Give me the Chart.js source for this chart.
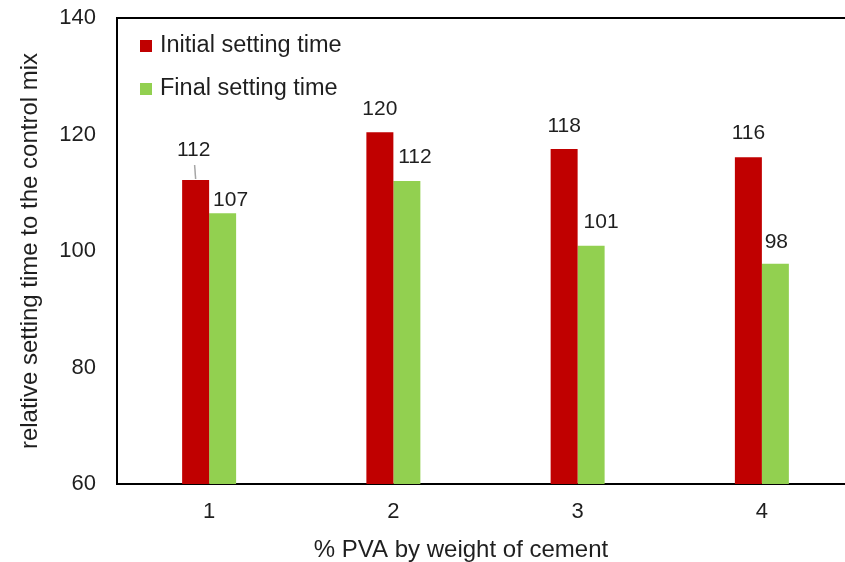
<!DOCTYPE html>
<html>
<head>
<meta charset="utf-8">
<title>Relative setting time</title>
<script src="https://cdn.jsdelivr.net/npm/chart.js@4.4.1/dist/chart.umd.min.js"></script>
<style>
    html, body { margin: 0; padding: 0; background: #fff; }
    /* 原图右侧被裁掉一截，画布略宽再裁掉 */
    .chart-wrap { width: 845px; height: 562px; overflow: hidden; }
</style>
</head>
<body>
<div class="chart-wrap">
    <canvas id="settingChart" width="856" height="562"></canvas>
</div>
<script>
// 数据
const categories = ['1', '2', '3', '4'];
const initialTime = [112.2, 120.4, 117.5, 116.1];
const finalTime = [106.5, 112.0, 100.9, 97.8];
const yTicks = [60, 80, 100, 120, 140];

const seriesNames = ['Initial setting time', 'Final setting time'];
const seriesColors = ['#C00000', '#92D050'];

// 数据标签相对柱顶的偏移（按系列）
const labelDx = [[-2, 0, 0, 0], [8, 8, 10, 1]];
const labelDy = [[-30, -23, -23, -24], [-13, -24, -24, -22]];

const FONT = "'Liberation Sans', Arial, sans-serif";
const TEXT_COLOR = '#1f1f1f';

// 数据标签（第一个红柱的标签被抬高，并带引导线）
const dataLabelPlugin = {
    id: 'dataLabels',
    afterDatasetsDraw(chart) {
        const ctx = chart.ctx;
        ctx.save();
        ctx.font = '21px ' + FONT;
        ctx.fillStyle = TEXT_COLOR;
        ctx.textAlign = 'center';
        ctx.textBaseline = 'middle';
        chart.data.datasets.forEach((ds, di) => {
            const meta = chart.getDatasetMeta(di);
            meta.data.forEach((bar, i) => {
                const x = bar.x + labelDx[di][i];
                const y = bar.y + labelDy[di][i];
                if (di === 0 && i === 0) {
                    // 灰色引导线
                    ctx.strokeStyle = '#a6a6a6';
                    ctx.lineWidth = 1.5;
                    ctx.beginPath();
                    ctx.moveTo(bar.x - 1, y + 15);
                    ctx.lineTo(bar.x, bar.y - 1);
                    ctx.stroke();
                }
                ctx.fillText(Math.round(ds.data[i]).toString(), x, y);
            });
        });
        ctx.restore();
    }
};

// 图框上边线、图例、坐标轴标题
const framePlugin = {
    id: 'frame',
    afterDraw(chart) {
        const ctx = chart.ctx;
        const area = chart.chartArea;
        ctx.save();
        ctx.strokeStyle = '#000';
        ctx.lineWidth = 2;
        ctx.beginPath();
        ctx.moveTo(area.left - 1, area.top);
        ctx.lineTo(area.right, area.top);
        ctx.stroke();

        // 图例
        ctx.font = '23.5px ' + FONT;
        ctx.textAlign = 'left';
        ctx.textBaseline = 'middle';
        chart.data.datasets.forEach((ds, di) => {
            const cy = area.top + 28 + di * 43;
            ctx.fillStyle = ds.backgroundColor;
            ctx.fillRect(area.left + 23, cy - 6, 12, 12);
            ctx.fillStyle = TEXT_COLOR;
            ctx.fillText(ds.label, area.left + 43, cy);
        });

        // x轴标题
        ctx.font = '24px ' + FONT;
        ctx.textAlign = 'center';
        ctx.fillText('% PVA by weight of cement', area.left + 344, 550);

        // y轴标题
        ctx.translate(30, (area.top + area.bottom) / 2);
        ctx.rotate(-Math.PI / 2);
        ctx.fillText('relative setting time to the control mix', 0, 0);
        ctx.restore();
    }
};

function initSettingChart() {
    const canvas = document.getElementById('settingChart');

    new Chart(canvas, {
        type: 'bar',
        data: {
            labels: categories,
            datasets: [{
                label: seriesNames[0],
                data: initialTime,
                backgroundColor: seriesColors[0]
            }, {
                label: seriesNames[1],
                data: finalTime,
                backgroundColor: seriesColors[1]
            }]
        },
        options: {
            responsive: false,
            animation: false,
            layout: { padding: { top: 18, right: 2, left: 0, bottom: 0 } },
            datasets: {
                bar: { categoryPercentage: 0.293, barPercentage: 1.0 }
            },
            plugins: {
                legend: { display: false },
                tooltip: { enabled: false }
            },
            scales: {
                x: {
                    grid: { display: false, drawTicks: false },
                    border: { display: true, color: '#000', width: 2 },
                    ticks: {
                        color: TEXT_COLOR,
                        font: { family: FONT, size: 22 },
                        padding: 15
                    },
                    afterFit(scale) { scale.height = 562 - 484; }
                },
                y: {
                    min: 60,
                    max: 140,
                    afterBuildTicks(scale) {
                        scale.ticks = yTicks.map(v => ({ value: v }));
                    },
                    grid: { display: false, drawTicks: false },
                    border: { display: true, color: '#000', width: 2 },
                    ticks: {
                        color: TEXT_COLOR,
                        font: { family: FONT, size: 22 },
                        padding: 21
                    },
                    afterFit(scale) {
                        scale.width = 117;
                        scale.paddingTop = 0;
                        scale.paddingBottom = 0;
                    }
                }
            }
        },
        plugins: [dataLabelPlugin, framePlugin]
    });
}

document.addEventListener('DOMContentLoaded', function() {
    if (typeof Chart === 'undefined') {
        console.error('Chart.js未加载');
        return;
    }
    initSettingChart();
});
</script>
</body>
</html>
